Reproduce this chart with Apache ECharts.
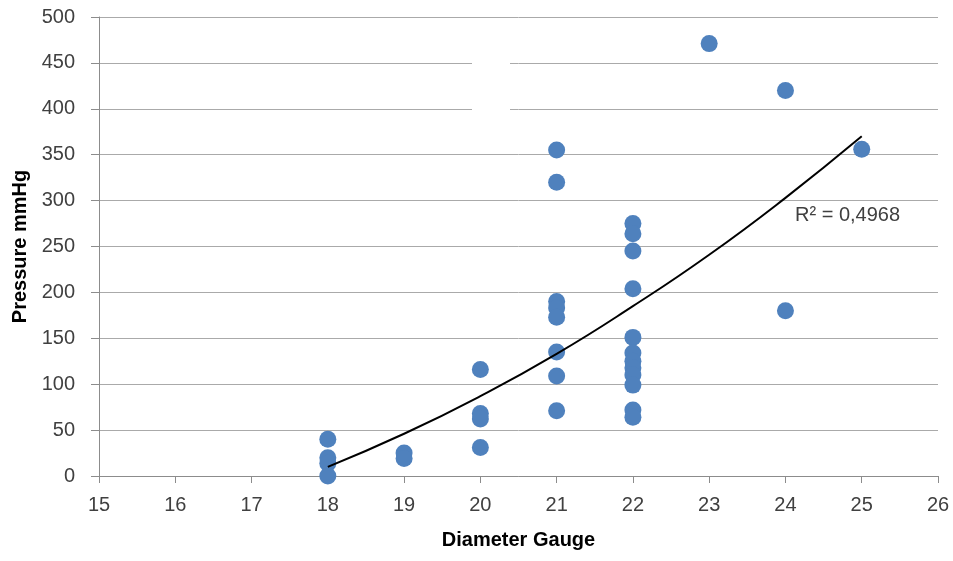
<!DOCTYPE html>
<html><head><meta charset="utf-8">
<script src="https://cdn.jsdelivr.net/npm/echarts@6/dist/echarts.min.js"></script>
<style>html,body{margin:0;padding:0;background:#fff}#c{width:953px;height:561px}</style>
</head><body><div id="c"></div>
<script>
const gauge = [18,18,18,18, 19,19, 20,20,20,20, 21,21,21,21,21,21,21,21, 22,22,22,22,22,22,22,22,22,22,22,22, 23, 24,24, 25];
const pressure = [40,20,14,0, 25,19, 116,68,62,31, 355,320,190,183,173,135,109,71, 275,264,245,204,151,134,125,118,110,99,72,64, 471, 420,180, 356];
const trendX = [18,19,20,21,22,23,24,25];
const trendY = [10,46,87,133,185,241,303,370];
const rsqText = 'R² = 0,4968';
const xTicks = [15,26,1];
const yTicks = [0,500,50];

const font = 'Liberation Sans';
const chart = echarts.init(document.getElementById('c'));
chart.setOption({
  animation:false,
  grid:{left:99,right:15,top:17,bottom:85},
  xAxis:{type:'value',min:xTicks[0],max:xTicks[1],interval:xTicks[2],
    name:'Diameter Gauge',nameLocation:'middle',nameGap:54,
    nameTextStyle:{fontFamily:font,fontWeight:'bold',fontSize:20,color:'#000'},
    axisLine:{show:true,lineStyle:{color:'#8c8c8c',width:1}},
    axisTick:{show:true,length:7,lineStyle:{color:'#8c8c8c'}},
    axisLabel:{fontFamily:font,fontSize:20,color:'#404040',margin:19},
    splitLine:{show:false}},
  yAxis:{type:'value',min:yTicks[0],max:yTicks[1],interval:yTicks[2],
    name:'Pressure mmHg',nameLocation:'middle',nameGap:69,
    nameTextStyle:{fontFamily:font,fontWeight:'bold',fontSize:20,color:'#000'},
    axisLine:{show:true,lineStyle:{color:'#8c8c8c',width:1}},
    axisTick:{show:true,length:8,lineStyle:{color:'#8c8c8c'}},
    axisLabel:{fontFamily:font,fontSize:20,color:'#404040',margin:24},
    splitLine:{show:true,lineStyle:{color:'#aaaaaa',width:1}}},
  series:[
    {type:'scatter',data:gauge.map((g,i)=>[g,pressure[i]]),symbolSize:17,
      itemStyle:{color:'#4f81bd',opacity:1},z:2},
    {type:'line',data:trendX.map((g,i)=>[g,trendY[i]]),smooth:true,showSymbol:false,
      lineStyle:{color:'#000',width:2},z:3}
  ],
  graphic:[
    {type:'rect',left:472,top:50,shape:{width:38,height:75},style:{fill:'#fff'},z:1},
    {type:'text',left:795,top:205,style:{text:rsqText,fontFamily:font,fontSize:20,fill:'#404040'},z:10}
  ]
});
</script></body></html>
